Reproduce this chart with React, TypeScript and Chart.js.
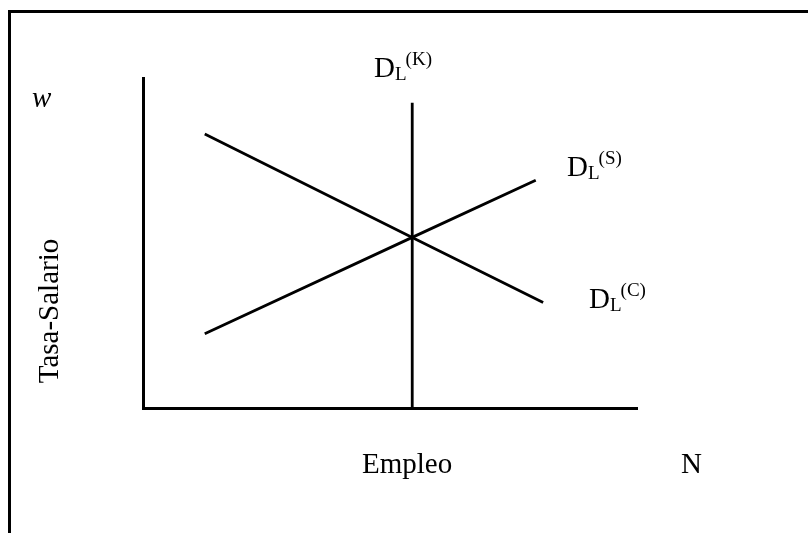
import React, { useEffect, useRef } from "react";
import { Chart, registerables } from "chart.js";

Chart.register(...registerables);

// Data (abstract units: employment N on x, wage w on y)
const curveNames = ["DL_K", "DL_S", "DL_C"];
const kX = [5.45, 5.45];
const kY = [0, 9.25];
const sX = [1.25, 5.45, 7.95];
const sY = [2.25, 5.17, 6.9];
const cX = [1.25, 5.45, 8.1];
const cY = [8.3, 5.17, 3.2];
const xAxisTitle = "Empleo";
const yAxisTitle = "Tasa-Salario";
const xEndLabel = "N";
const yEndLabel = "w";

const toPts = (xs: number[], ys: number[]) => xs.map((x, i) => ({ x, y: ys[i] }));

const FONT = '"Liberation Serif", "Times New Roman", serif';
const FS = 29;
const SFS = 19;

function DL({ sup, left, top }: { sup: string; left: number; top: number }) {
  return (
    <div
      style={{
        position: "absolute",
        left,
        top,
        fontFamily: FONT,
        fontSize: FS,
        lineHeight: FS + "px",
        whiteSpace: "nowrap",
        color: "#000",
      }}
    >
      D
      <span style={{ fontSize: SFS, position: "relative", top: 3 }}>L</span>
      <span style={{ fontSize: SFS, position: "relative", top: -12, marginLeft: -1 }}>({sup})</span>
    </div>
  );
}

const textStyle = (left: number, top: number, extra: any = {}) => ({
  position: "absolute" as const,
  left,
  top,
  fontFamily: FONT,
  fontSize: FS,
  lineHeight: FS + "px",
  whiteSpace: "nowrap" as const,
  ...extra,
});

export default function App() {
  const ref = useRef<HTMLCanvasElement | null>(null);

  useEffect(() => {
    if (!ref.current) return;
    const line = (label: string, data: { x: number; y: number }[]) => ({
      label,
      data,
      showLine: true,
      borderColor: "#000",
      borderWidth: 2.8,
      pointRadius: 0,
      fill: false,
      tension: 0,
      clip: false as any,
    });
    const chart = new Chart(ref.current, {
      type: "scatter",
      data: {
        datasets: [
          line(curveNames[0], toPts(kX, kY)),
          line(curveNames[1], toPts(sX, sY)),
          line(curveNames[2], toPts(cX, cY)),
        ],
      },
      options: {
        animation: false,
        responsive: false,
        devicePixelRatio: 1,
        layout: { padding: { left: 143, right: 171, top: 78, bottom: 125 } },
        plugins: { legend: { display: false }, tooltip: { enabled: false } },
        scales: {
          x: {
            type: "linear",
            min: 0,
            max: 10,
            ticks: { display: false },
            grid: { display: false, drawTicks: false },
            border: { display: true, color: "#000", width: 3 },
          },
          y: {
            type: "linear",
            min: 0,
            max: 10,
            ticks: { display: false },
            grid: { display: false, drawTicks: false },
            border: { display: true, color: "#000", width: 3 },
          },
        },
      },
    });
    return () => chart.destroy();
  }, []);

  return (
    <div
      style={{
        position: "fixed",
        left: 0,
        top: 0,
        width: 808,
        height: 533,
        overflow: "hidden",
        background: "#fff",
      }}
    >
      <div
        style={{
          position: "absolute",
          left: 8,
          top: 10,
          width: 1200,
          height: 1200,
          borderTop: "3px solid #000",
          borderLeft: "3px solid #000",
        }}
      />
      <canvas
        ref={ref}
        width={808}
        height={533}
        style={{ position: "absolute", left: 0, top: 0, width: 808, height: 533 }}
      />
      <DL sup="K" left={374} top={53} />
      <DL sup="S" left={567} top={152} />
      <DL sup="C" left={589} top={284} />
      <div style={textStyle(32, 83, { fontStyle: "italic" })}>{yEndLabel}</div>
      <div style={textStyle(48, 311, { transform: "translate(-50%, -50%) rotate(-90deg)" })}>
        {yAxisTitle}
      </div>
      <div style={textStyle(362, 449)}>{xAxisTitle}</div>
      <div style={textStyle(681, 449)}>{xEndLabel}</div>
    </div>
  );
}
